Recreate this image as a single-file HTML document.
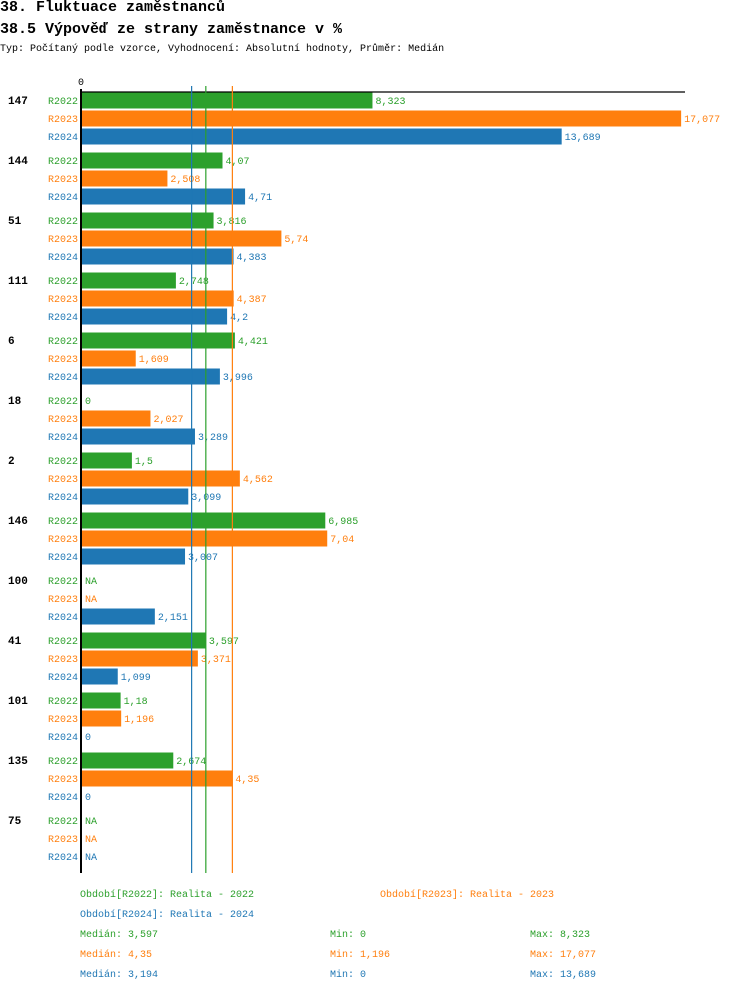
<!DOCTYPE html>
<html><head><meta charset="utf-8"><style>
body{margin:0;background:#fff;width:750px;height:992px;overflow:hidden;font-family:"Liberation Mono",monospace}
.t{position:absolute;white-space:pre}
</style></head><body>
<div class="t" style="left:0;top:-1px;font-size:15px;font-weight:bold">38. Fluktuace zaměstnanců</div>
<div class="t" style="left:0;top:21px;font-size:15px;font-weight:bold">38.5 Výpověď ze strany zaměstnance v %</div>
<div class="t" style="left:0;top:44px;font-size:10px">Typ: Počítaný podle vzorce, Vyhodnocení: Absolutní hodnoty, Průměr: Medián</div>
<svg id="c" width="750" height="992" style="position:absolute;left:0;top:0"></svg>
<script>
const groups=["147","144","51","111","6","18","2","146","100","41","101","135","75"];
const series=["R2022","R2023","R2024"];
const v2022=[8.323,4.07,3.816,2.748,4.421,0,1.5,6.985,null,3.597,1.18,2.674,null];
const v2023=[17.077,2.508,5.74,4.387,1.609,2.027,4.562,7.04,null,3.371,1.196,4.35,null];
const v2024=[13.689,4.71,4.383,4.2,3.996,3.289,3.099,3.007,2.151,1.099,0,0,null];
const medians=[3.597,4.35,3.194];
const mins=[0,1.196,0];
const maxs=[8.323,17.077,13.689];
const colors=["#2ca02c","#ff7f0e","#1f77b4"];
const vals=[v2022,v2023,v2024];
const NS="http://www.w3.org/2000/svg";
const svg=document.getElementById('c');
const xs=v=>79+35.26*v;
const rowY=(g,s)=>92.5+g*60+s*18;
function fmt(v){return v===null?"NA":String(v).replace('.',',');}
function el(t,a){const e=document.createElementNS(NS,t);for(const k in a)e.setAttribute(k,a[k]);svg.appendChild(e);return e;}
function txt(s,a){const e=el('text',a);e.textContent=s;return e;}
const zl=txt("0",{x:78,y:85,'font-size':10,'font-family':'Liberation Mono'});


groups.forEach((g,gi)=>{
  const gl=txt(g,{x:8,y:rowY(gi,0)+11.5,'font-size':11,'font-weight':'bold','font-family':'Liberation Mono'});
  
  
  series.forEach((s,si)=>{
    const y=rowY(gi,si);const v=vals[si][gi];
    const sl=txt(s,{x:78,y:y+11.5,'text-anchor':'end','font-size':10,fill:colors[si],'font-family':'Liberation Mono'});
    
    
    let end=82;
    if(v!==null&&v>0){
      end=xs(v);
      const r=el('rect',{x:82,y:y,width:end-82,height:16,fill:colors[si]});
      
      
    }
    const vl=txt(fmt(v),{x:end+3,y:y+11.5,'font-size':10,fill:colors[si],'font-family':'Liberation Mono'});
    
    
  });
});
const topLine=el('line',{x1:80,y1:92,x2:685,y2:92,stroke:'#000','stroke-width':1.3});


const ax=el('line',{x1:81,y1:89,x2:81,y2:873,stroke:'#000','stroke-width':2});


[2,0,1].forEach(si=>{
  const ml=el('line',{x1:xs(medians[si]),y1:86,x2:xs(medians[si]),y2:873,stroke:colors[si],'stroke-width':1.2});
  
  
});
const leg=[["Období[R2022]: Realita - 2022",80,897,0],["Období[R2023]: Realita - 2023",380,897,1],["Období[R2024]: Realita - 2024",80,917,2]];
leg.forEach(l=>{const t=txt(l[0],{x:l[1],y:l[2],'font-size':10,fill:colors[l[3]],'font-family':'Liberation Mono'});

});
series.forEach((s,si)=>{
  const y=937+si*20;
  const a=txt("Medián: "+fmt(medians[si]),{x:80,y:y,'font-size':10,fill:colors[si],'font-family':'Liberation Mono'});
  
  
  const b=txt("Min: "+fmt(mins[si]),{x:330,y:y,'font-size':10,fill:colors[si],'font-family':'Liberation Mono'});
  
  
  const c=txt("Max: "+fmt(maxs[si]),{x:530,y:y,'font-size':10,fill:colors[si],'font-family':'Liberation Mono'});
  
  
});
</script>
</body></html>
